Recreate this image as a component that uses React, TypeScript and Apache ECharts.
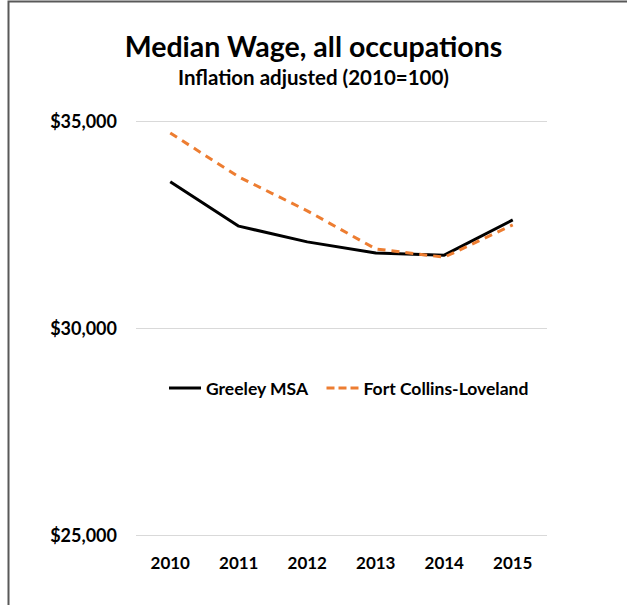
import React, { useEffect, useRef } from "react";
import * as echarts from "echarts";

const years = ["2010", "2011", "2012", "2013", "2014", "2015"];
const greeley = [33530, 32460, 32080, 31810, 31760, 32610];
const fortCollins = [34710, 33650, 32830, 31910, 31710, 32490];
const yTicks = [25000, 30000, 35000];

const FONT = "Lato, 'Open Sans', sans-serif";

export default function App() {
  const ref = useRef<HTMLDivElement>(null);
  useEffect(() => {
    if (!ref.current) return;
    const chart = echarts.init(ref.current, null, { renderer: "svg" });
    chart.setOption({
      animation: false,
      backgroundColor: "#fff",
      title: [
        {
          text: "Median Wage, all occupations",
          left: "center",
          top: 26,
          textStyle: { fontFamily: FONT, fontWeight: "bold", fontSize: 28.5, color: "#000" },
        },
        {
          text: "Inflation adjusted (2010=100)",
          left: "center",
          top: 61,
          textStyle: { fontFamily: FONT, fontWeight: "bold", fontSize: 20.5, color: "#000" },
        },
      ],
      graphic: [
        {
          type: "polyline",
          shape: { points: [[8.5, 700], [8.5, 1.5], [700, 1.5]] },
          style: { stroke: "#595959", lineWidth: 2, fill: "none" },
        },
      ],
      legend: {
        top: 374,
        left: 164,
        itemWidth: 32,
        itemHeight: 3,
        itemGap: 18,
        textStyle: { fontFamily: FONT, fontWeight: "bold", fontSize: 17.5, color: "#000" },
        data: [
          { name: "Greeley MSA", icon: "path://M0,0H32V3H0Z" },
          { name: "Fort Collins-Loveland", icon: "path://M0,0H8V3H0ZM12,0H20V3H12ZM24,0H32V3H24Z" },
        ],
      },
      grid: { left: 136, right: 80, top: 121, bottom: 70, containLabel: false },
      xAxis: {
        type: "category",
        data: years,
        boundaryGap: true,
        axisLine: { show: false },
        axisTick: { show: false },
        axisLabel: { fontFamily: FONT, fontWeight: "bold", fontSize: 17, color: "#000", margin: 19 },
      },
      yAxis: {
        type: "value",
        min: yTicks[0],
        max: yTicks[yTicks.length - 1],
        interval: 5000,
        axisLine: { show: false },
        axisTick: { show: false },
        splitLine: { lineStyle: { color: "#d9d9d9", width: 1 } },
        axisLabel: {
          fontFamily: FONT,
          fontWeight: "bold",
          fontSize: 18,
          color: "#000",
          margin: 19,
          formatter: (v: number) => "$" + v.toLocaleString("en-US"),
        },
      },
      series: [
        {
          name: "Greeley MSA",
          type: "line",
          data: greeley,
          symbol: "none",
          itemStyle: { color: "#000" },
          lineStyle: { color: "#000", width: 3 },
        },
        {
          name: "Fort Collins-Loveland",
          type: "line",
          data: fortCollins,
          symbol: "none",
          itemStyle: { color: "#ED7D31" },
          lineStyle: { color: "#ED7D31", width: 3, type: [8, 6] },
        },
      ],
    });
    return () => chart.dispose();
  }, []);
  return <div ref={ref} style={{ width: 627, height: 605, position: "absolute", left: 0, top: 0 }} />;
}
